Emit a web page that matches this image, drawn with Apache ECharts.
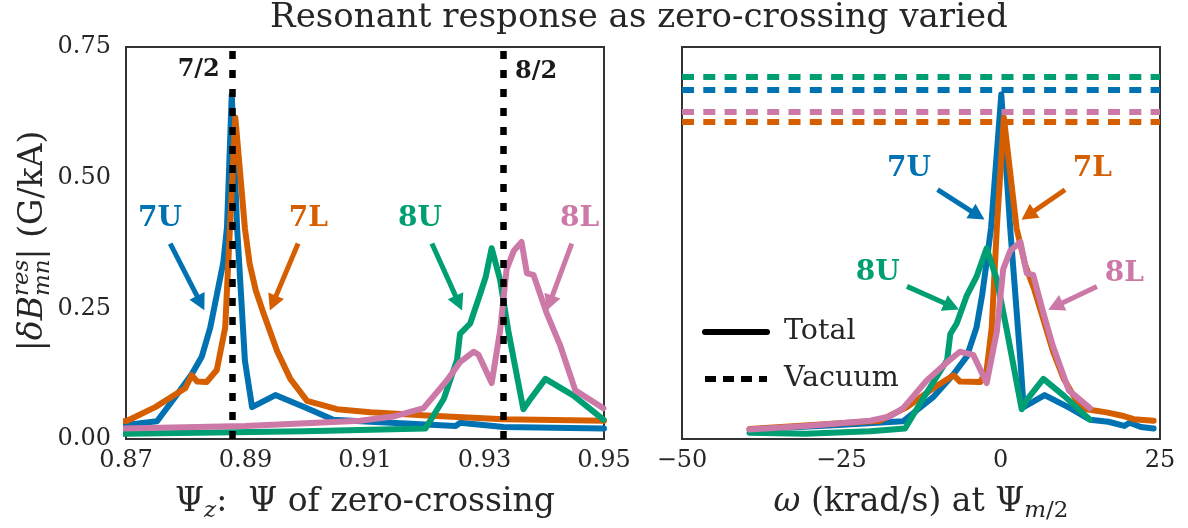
<!DOCTYPE html>
<html><head><meta charset="utf-8">
<script src="https://cdn.jsdelivr.net/npm/echarts@6/dist/echarts.min.js"></script>
<style>html,body{margin:0;padding:0;background:#fff}#c{width:1188px;height:528px}</style>
</head><body><div id="c"></div>
<script>
// ---------------- data ----------------
const seriesNames = ['7U', '7L', '8U', '8L'];

const psi7U   = [0.860, 0.870, 0.8752, 0.8782, 0.8810, 0.8827, 0.8841, 0.8852, 0.8863, 0.8869, 0.8877, 0.8886, 0.8899, 0.8911, 0.8950, 0.9003, 0.9047, 0.9109, 0.9252, 0.9259, 0.9332, 0.9500];
const omega7U = [-39.4, -25.5, -15.3, -10.6, -7.4, -5.3, -3.8, -2.9, -2.2, -1.5, 0.1, 1.5, 3.1, 3.6, 6.9, 10.9, 14.0, 16.9, 19.4, 20.2, 22.0, 24.0];
const amp7U   = [0.018, 0.027, 0.034, 0.080, 0.124, 0.158, 0.213, 0.276, 0.339, 0.405, 0.659, 0.403, 0.150, 0.061, 0.084, 0.059, 0.037, 0.033, 0.025, 0.031, 0.023, 0.020];

const psi7L   = [0.860, 0.8702, 0.8749, 0.8799, 0.8810, 0.8819, 0.8835, 0.8852, 0.8866, 0.8874, 0.8883, 0.8899, 0.8907, 0.8917, 0.8930, 0.8953, 0.8975, 0.9003, 0.9053, 0.9109, 0.9204, 0.9332, 0.9500];
const omega7L = [-39.4, -19.0, -14.7, -10.6, -7.4, -6.4, -3.2, -2.2, -1.4, -0.6, 0.5, 2.5, 3.8, 5.3, 6.4, 8.2, 9.9, 11.9, 13.5, 16.6, 18.9, 20.9, 24.0];
const amp7L   = [0.019, 0.035, 0.061, 0.097, 0.122, 0.110, 0.109, 0.132, 0.213, 0.405, 0.615, 0.403, 0.335, 0.285, 0.241, 0.168, 0.115, 0.073, 0.057, 0.051, 0.045, 0.038, 0.035];

const psi8U   = [0.860, 0.870, 0.900, 0.9201, 0.9232, 0.9254, 0.9259, 0.9276, 0.9292, 0.9302, 0.9312, 0.9326, 0.9340, 0.9365, 0.9376, 0.9402, 0.9449, 0.9499];
const omega8U = [-39.4, -30.6, -20.5, -15.0, -12.2, -8.4, -7.9, -6.9, -5.3, -3.8, -2.2, -0.6, 1.0, 3.3, 4.1, 6.7, 9.9, 14.0];
const amp8U   = [0.012, 0.010, 0.015, 0.020, 0.077, 0.151, 0.201, 0.221, 0.275, 0.310, 0.365, 0.305, 0.206, 0.057, 0.075, 0.115, 0.083, 0.037];

const psi8L   = [0.860, 0.890, 0.9092, 0.9147, 0.9198, 0.9237, 0.9259, 0.9282, 0.9290, 0.9312, 0.9326, 0.9337, 0.9349, 0.9362, 0.9371, 0.9382, 0.9404, 0.9427, 0.9452, 0.9499];
const omega8L = [-39.4, -30.6, -20.5, -17.4, -15.3, -11.6, -8.4, -6.4, -4.3, -2.2, -0.6, 0.4, 1.5, 3.1, 4.1, 5.1, 6.7, 8.2, 10.7, 14.0];
const amp8L   = [0.018, 0.025, 0.035, 0.043, 0.059, 0.112, 0.147, 0.167, 0.161, 0.107, 0.206, 0.325, 0.360, 0.377, 0.317, 0.314, 0.241, 0.178, 0.093, 0.059];

const vacuumAmp = [0.668, 0.607, 0.694, 0.627];          // 7U, 7L, 8U, 8L
const resonancePsi = [0.8878, 0.9332];
const resonanceLabels = ['7/2', '8/2'];

const titleText = 'Resonant response as zero-crossing varied';
const legendNames = ['Total', 'Vacuum'];

// ---------------- layout / style ----------------
const FONT = 'DejaVu Serif';
const TXT = '#262626';
const colors = ['#0072B2', '#D55E00', '#009E73', '#CC79A7'];
const psiList = [psi7U, psi7L, psi8U, psi8L];
const omegaList = [omega7U, omega7L, omega8U, omega8L];
const ampList = [amp7U, amp7L, amp8U, amp8L];

// annotation placement (data coordinates of each panel)
const annLeftText  = [[0.8757, 0.4215], [0.9005, 0.4215], [0.9192, 0.4215], [0.9459, 0.4215]];
const annLeftFrom  = [[0.8774, 0.374], [0.8988, 0.374], [0.9212, 0.374], [0.9446, 0.374]];
const annLeftTo    = [[0.8825, 0.260], [0.8946, 0.260], [0.9257, 0.260], [0.9409, 0.260]];
const annRightText = [[-14.4, 0.518], [14.4, 0.518], [-19.3, 0.319], [19.4, 0.317]];
const annRightFrom = [[-9.9, 0.477], [10.1, 0.477], [-14.7, 0.292], [15.1, 0.292]];
const annRightTo   = [[-3.6, 0.428], [4.3, 0.428], [-7.7, 0.254], [8.6, 0.254]];
const resLabelPos  = [[0.8857, 0.706], [0.9351, 0.702]];

const mctx = document.createElement('canvas').getContext('2d');
function tw(t, size, style) { mctx.font = (style || '') + ' ' + size + 'px "' + FONT + '"'; return mctx.measureText(t).width; }

const gridL = {left: 126, top: 47, width: 478, height: 395};
const gridR = {left: 682, top: 47, width: 478, height: 395};

function arrowItem(from, to) {
  return [{coord: from, symbol: 'none'}, {coord: to, symbol: 'triangle', symbolSize: [17, 16]}];
}

const series = [];
for (let i = 0; i < 4; i++) {
  const c = colors[i];
  const lineStyle = {color: c, width: 6, cap: 'round', join: 'round'};
  const labelStyle = {show: true, position: 'inside', formatter: '{b}', fontSize: 28, fontWeight: 'bold', fontFamily: FONT, color: c};
  series.push({
    name: seriesNames[i] + ' (Ψz)', type: 'line', xAxisIndex: 0, yAxisIndex: 0,
    data: psiList[i].map((p, j) => [p, ampList[i][j]]),
    symbol: 'none', showSymbol: false, lineStyle, itemStyle: {color: c}, clip: true, animation: false,
    emphasis: {disabled: true}, z: 2 + i * 0.1,
    markLine: {silent: true, animation: false, precision: 5, symbol: 'none', label: {show: false}, emphasis: {disabled: true},
      lineStyle: {color: c, width: 5, type: 'solid'},
      data: [arrowItem(annLeftFrom[i], annLeftTo[i])]},
    markPoint: {silent: true, animation: false, symbol: 'circle', symbolSize: 1, itemStyle: {color: 'rgba(0,0,0,0)'},
      label: labelStyle, data: [{name: seriesNames[i], coord: annLeftText[i]}]}
  });
  series.push({
    name: seriesNames[i] + ' (ω)', type: 'line', xAxisIndex: 1, yAxisIndex: 1,
    data: omegaList[i].map((w, j) => [w, ampList[i][j]]),
    symbol: 'none', showSymbol: false, lineStyle, itemStyle: {color: c}, clip: true, animation: false,
    emphasis: {disabled: true}, z: 2 + i * 0.1,
    markLine: {silent: true, animation: false, precision: 5, symbol: 'none', label: {show: false}, emphasis: {disabled: true},
      lineStyle: {color: c, width: 5, type: 'solid'},
      data: [
        arrowItem(annRightFrom[i], annRightTo[i]),
        {yAxis: vacuumAmp[i], lineStyle: {color: c, width: 6, type: [12, 9.3], cap: 'butt'}}
      ]},
    markPoint: {silent: true, animation: false, symbol: 'circle', symbolSize: 1, itemStyle: {color: 'rgba(0,0,0,0)'},
      label: labelStyle, data: [{name: seriesNames[i], coord: annRightText[i]}]}
  });
}
// resonance surfaces (left panel)
series.push({
  name: 'resonance', type: 'line', xAxisIndex: 0, yAxisIndex: 0, data: [], animation: false,
  markLine: {silent: true, animation: false, precision: 5, symbol: 'none', label: {show: false},
    lineStyle: {color: '#000', width: 6.5, type: [8, 11], cap: 'butt'},
    data: resonancePsi.map(p => ({xAxis: p}))},
  markPoint: {silent: true, animation: false, symbol: 'circle', symbolSize: 1, itemStyle: {color: 'rgba(0,0,0,0)'},
    data: resonanceLabels.map((t, k) => ({name: t, coord: resLabelPos[k],
      label: {show: true, position: 'inside', formatter: '{b}', align: k === 0 ? 'right' : 'left',
        fontSize: 24, fontWeight: 'bold', fontFamily: FONT, color: '#1a1a1a'}}))}
});
// legend entries
series.push({name: 'Total', type: 'line', xAxisIndex: 1, yAxisIndex: 1, data: [], symbol: 'none', showSymbol: false,
  lineStyle: {color: '#000', width: 6, type: 'solid', cap: 'round'}, itemStyle: {color: '#000'}});
series.push({name: 'Vacuum', type: 'line', xAxisIndex: 1, yAxisIndex: 1, data: [], symbol: 'none', showSymbol: false,
  lineStyle: {color: '#000', width: 6, type: [11, 7], cap: 'butt'}, itemStyle: {color: '#000'}});

const axisCommon = {
  type: 'value', axisLine: {show: false}, axisTick: {show: false}, splitLine: {show: false}
};
const nameRich = {
  n: {fontSize: 33, fontFamily: FONT, color: TXT, lineHeight: 42, verticalAlign: 'middle'},
  i: {fontSize: 33, fontFamily: FONT, fontStyle: 'italic', color: TXT, lineHeight: 42, verticalAlign: 'middle'},
  s: {fontSize: 23, fontFamily: FONT, fontStyle: 'italic', color: TXT, lineHeight: 21, verticalAlign: 'bottom'},
  su: {fontSize: 23, fontFamily: FONT, color: TXT, lineHeight: 21, verticalAlign: 'bottom'}
};

// y-axis label pieces (rotated group)
const yfs = 33, ysfs = 23;
const wBar = tw('|', yfs), wDB = tw('δB', yfs, 'italic'), wRes = tw('res', ysfs, 'italic'), wMn = tw('mn', ysfs, 'italic');
const wRest = tw('| (G/kA)', yfs);
const yTot = wBar + wDB + Math.max(wRes, wMn) + wRest;
const x0 = -yTot / 2;
const yFont = yfs + 'px "' + FONT + '"', yFontI = 'italic ' + yfs + 'px "' + FONT + '"', ySubI = 'italic ' + ysfs + 'px "' + FONT + '"';
const yLabelGroup = {
  type: 'group', x: 33, y: 241, rotation: Math.PI / 2, silent: true,
  children: [
    {type: 'text', x: x0, y: 0, style: {text: '|', font: yFont, fill: TXT, align: 'left', verticalAlign: 'middle'}},
    {type: 'text', x: x0 + wBar, y: 0, style: {text: 'δB', font: yFontI, fill: TXT, align: 'left', verticalAlign: 'middle'}},
    {type: 'text', x: x0 + wBar + wDB, y: -11, style: {text: 'res', font: ySubI, fill: TXT, align: 'left', verticalAlign: 'middle'}},
    {type: 'text', x: x0 + wBar + wDB, y: 10, style: {text: 'mn', font: ySubI, fill: TXT, align: 'left', verticalAlign: 'middle'}},
    {type: 'text', x: x0 + wBar + wDB + Math.max(wRes, wMn), y: 0, style: {text: '| (G/kA)', font: yFont, fill: TXT, align: 'left', verticalAlign: 'middle'}}
  ]
};

const option = {
  backgroundColor: '#fff',
  animation: false,
  title: {text: titleText, left: 639 - tw(titleText, 34) / 2, top: 1, padding: 0,
    textStyle: {fontSize: 34, fontWeight: 'normal', fontFamily: FONT, color: TXT}},
  legend: {data: legendNames, orient: 'vertical', left: 702, top: 316, padding: 0,
    itemWidth: 62, itemHeight: 14, itemGap: 15, selectedMode: false,
    lineStyle: {width: 'inherit'},
    itemStyle: {color: 'rgba(0,0,0,0)', borderWidth: 0, opacity: 0},
    textStyle: {fontSize: 28.5, fontFamily: FONT, color: TXT, lineHeight: 32, padding: [0, 0, 0, 12]}},
  grid: [
    Object.assign({show: true, borderColor: '#333', borderWidth: 2, backgroundColor: 'transparent', containLabel: false}, gridL),
    Object.assign({show: true, borderColor: '#333', borderWidth: 2, backgroundColor: 'transparent', containLabel: false}, gridR)
  ],
  xAxis: [
    Object.assign({}, axisCommon, {gridIndex: 0, min: 0.87, max: 0.95, interval: 0.02,
      axisLabel: {fontSize: 24, fontFamily: FONT, color: TXT, margin: 10, formatter: v => v.toFixed(2)},
      name: '{n|Ψ}{s|z}{n|:  Ψ of zero-crossing}', nameLocation: 'middle', nameGap: 42,
      nameTextStyle: {rich: nameRich}}),
    Object.assign({}, axisCommon, {gridIndex: 1, min: -50, max: 25, interval: 25,
      axisLabel: {fontSize: 24, fontFamily: FONT, color: TXT, margin: 10, formatter: v => v < 0 ? '\u2212' + (-v) : String(v)},
      name: '{i|ω}{n| (krad/s) at Ψ}{s|m}{su|/2}', nameLocation: 'middle', nameGap: 42,
      nameTextStyle: {rich: nameRich}})
  ],
  yAxis: [
    Object.assign({}, axisCommon, {gridIndex: 0, min: 0, max: 0.75, interval: 0.25,
      axisLabel: {fontSize: 24, fontFamily: FONT, color: TXT, margin: 15, formatter: v => v.toFixed(2)}}),
    Object.assign({}, axisCommon, {gridIndex: 1, min: 0, max: 0.75, interval: 0.25, axisLabel: {show: false}})
  ],
  graphic: [yLabelGroup],
  series
};

const chart = echarts.init(document.getElementById('c'), null, {renderer: 'canvas'});
chart.setOption(option);
</script>
</body></html>
